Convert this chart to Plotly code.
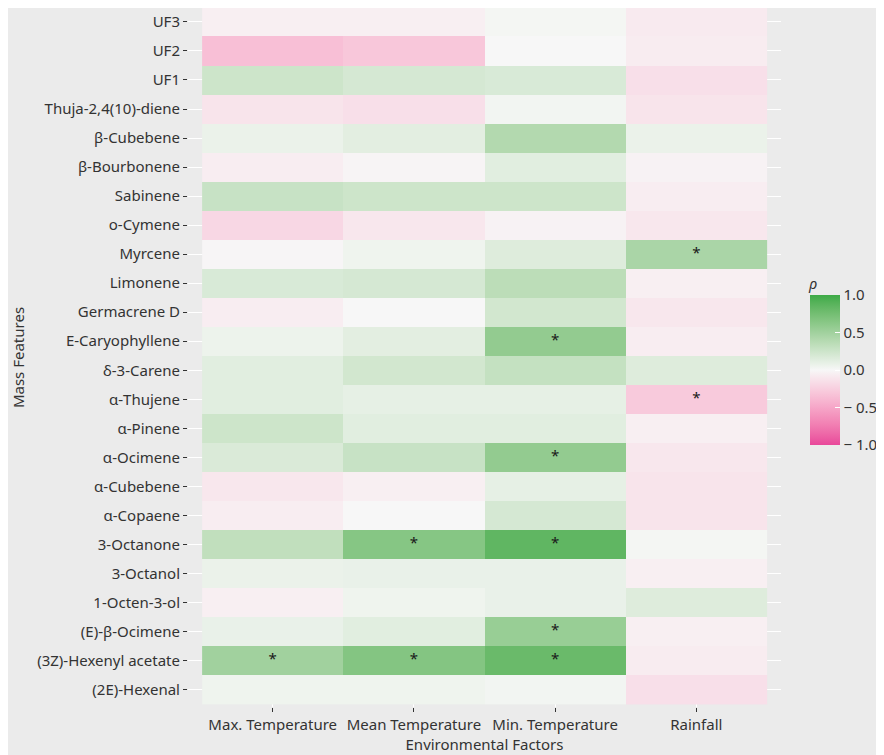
import plotly.graph_objects as go

features = ["UF3", "UF2", "UF1", "Thuja-2,4(10)-diene", "β-Cubebene", "β-Bourbonene",
            "Sabinene", "o-Cymene", "Myrcene", "Limonene", "Germacrene D", "E-Caryophyllene",
            "δ-3-Carene", "α-Thujene", "α-Pinene", "α-Ocimene", "α-Cubebene", "α-Copaene",
            "3-Octanone", "3-Octanol", "1-Octen-3-ol", "(E)-β-Ocimene", "(3Z)-Hexenyl acetate",
            "(2E)-Hexenal"]
factors = ["Max. Temperature", "Mean Temperature", "Min. Temperature", "Rainfall"]

max_temp = [-0.05, -0.35, 0.25, -0.12, 0.07, -0.06, 0.28, -0.20, -0.01, 0.18, -0.06, 0.06,
            0.13, 0.13, 0.25, 0.17, -0.10, -0.06, 0.32, 0.07, -0.05, 0.08, 0.50, 0.05]
mean_temp = [-0.05, -0.30, 0.20, -0.15, 0.12, -0.02, 0.25, -0.10, 0.05, 0.20, 0.00, 0.12,
             0.22, 0.10, 0.13, 0.28, -0.05, 0.00, 0.65, 0.08, 0.05, 0.13, 0.66, 0.05]
min_temp = [0.02, 0.00, 0.18, 0.03, 0.40, 0.13, 0.25, -0.03, 0.15, 0.35, 0.22, 0.58,
            0.30, 0.10, 0.13, 0.58, 0.10, 0.20, 0.85, 0.08, 0.08, 0.55, 0.80, 0.03]
rainfall = [-0.08, -0.07, -0.15, -0.12, 0.07, -0.03, -0.06, -0.10, 0.45, -0.05, -0.10, -0.06,
            0.15, -0.28, -0.05, -0.10, -0.12, -0.12, 0.02, -0.05, 0.15, -0.05, -0.07, -0.15]

sig_features = ["Myrcene", "E-Caryophyllene", "α-Thujene", "α-Ocimene", "3-Octanone",
                "3-Octanone", "(E)-β-Ocimene", "(3Z)-Hexenyl acetate", "(3Z)-Hexenyl acetate",
                "(3Z)-Hexenyl acetate"]
sig_factors = ["Rainfall", "Min. Temperature", "Rainfall", "Min. Temperature", "Mean Temperature",
               "Min. Temperature", "Min. Temperature", "Max. Temperature", "Mean Temperature",
               "Min. Temperature"]

cbar_vals = [1.0, 0.5, 0.0, -0.5, -1.0]
cbar_text = ["1.0", "0.5", "0.0", "− 0.5", "− 1.0"]

# ---- Lab-interpolated diverging colour scale (like ggplot's gradient2) ----
LOW, MID, HIGH = "#E8489A", "#F7F7F7", "#3DAA47"


def hex2rgb(h):
    h = h.lstrip("#")
    return [int(h[i:i + 2], 16) / 255 for i in (0, 2, 4)]


def srgb2lin(c):
    return c / 12.92 if c <= 0.04045 else ((c + 0.055) / 1.055) ** 2.4


def lin2srgb(c):
    c = max(0.0, min(1.0, c))
    return 12.92 * c if c <= 0.0031308 else 1.055 * c ** (1 / 2.4) - 0.055


def rgb2lab(rgb):
    r, g, b = [srgb2lin(c) for c in rgb]
    x = (0.4124 * r + 0.3576 * g + 0.1805 * b) / 0.95047
    y = (0.2126 * r + 0.7152 * g + 0.0722 * b)
    z = (0.0193 * r + 0.1192 * g + 0.9505 * b) / 1.08883
    f = lambda t: t ** (1 / 3) if t > 0.008856 else 7.787 * t + 16 / 116
    fx, fy, fz = f(x), f(y), f(z)
    return [116 * fy - 16, 500 * (fx - fy), 200 * (fy - fz)]


def lab2rgb(lab):
    L, a, b = lab
    fy = (L + 16) / 116
    fx = fy + a / 500
    fz = fy - b / 200
    finv = lambda t: t ** 3 if t ** 3 > 0.008856 else (t - 16 / 116) / 7.787
    x, y, z = finv(fx) * 0.95047, finv(fy), finv(fz) * 1.08883
    r = 3.2406 * x - 1.5372 * y - 0.4986 * z
    g = -0.9689 * x + 1.8758 * y + 0.0415 * z
    bb = 0.0557 * x - 0.2040 * y + 1.0570 * z
    return [round(lin2srgb(c) * 255) for c in (r, g, bb)]


def interp(c1, c2, t):
    l1, l2 = rgb2lab(hex2rgb(c1)), rgb2lab(hex2rgb(c2))
    return lab2rgb([l1[i] + (l2[i] - l1[i]) * t for i in range(3)])


colorscale = []
n = 20
for i in range(n + 1):
    s = i / n
    if s <= 0.5:
        rgb = interp(LOW, MID, s / 0.5)
    else:
        rgb = interp(MID, HIGH, (s - 0.5) / 0.5)
    colorscale.append([s, "rgb(%d,%d,%d)" % tuple(rgb)])

z = [[max_temp[i], mean_temp[i], min_temp[i], rainfall[i]] for i in range(len(features))]

FONT = "Noto Sans"
TXT = "#333333"
W, H = 876, 747  # page body has an 8px margin

fig = go.Figure()
fig.add_trace(go.Heatmap(
    z=z, x=factors, y=features, zmin=-1, zmax=1, colorscale=colorscale,
    colorbar=dict(
        tickvals=cbar_vals, ticktext=cbar_text,
        tickfont=dict(family=FONT, size=15, color=TXT),
        thickness=30, lenmode="pixels", len=150, ypad=0, xpad=0,
        xref="container", x=802 / W, xanchor="left",
        yref="container", y=1 - 387 / H, yanchor="middle",
        outlinewidth=0, ticks="inside", tickcolor="white", ticklen=5,
    ),
    hoverinfo="skip",
))
fig.add_trace(go.Scatter(
    x=sig_factors, y=sig_features, mode="text", text=["*"] * len(sig_factors),
    textfont=dict(family=FONT, size=15, color="#1a1a1a"), showlegend=False, hoverinfo="skip",
))

fig.add_annotation(text="<i>ρ</i>", xref="paper", yref="paper", showarrow=False,
                   x=(798 - 180) / (773 - 180), y=1 - 275 / 699.4,
                   xanchor="left", yanchor="middle",
                   font=dict(family=FONT, size=15, color=TXT))

fig.update_layout(
    width=W, height=H,
    margin=dict(l=180, r=103, t=0, b=48, pad=0),
    paper_bgcolor="#EBEBEB", plot_bgcolor="#EBEBEB",
    font=dict(family=FONT, size=15, color=TXT),
    showlegend=False,
)
fig.update_xaxes(
    type="category", range=[-0.6, 3.6], showgrid=True, gridcolor="white", gridwidth=1.2,
    zeroline=False, ticks="outside", ticklen=4, tickcolor="#333333",
    tickfont=dict(family=FONT, size=15, color=TXT),
    title=dict(text="Environmental Factors", font=dict(family=FONT, size=15, color=TXT), standoff=3),
    automargin=False,
)
fig.update_yaxes(
    type="category", range=[23.6, -0.48], showgrid=True, gridcolor="white", gridwidth=1.2,
    zeroline=False, ticks="outside", ticklen=4, tickcolor="#333333",
    tickfont=dict(family=FONT, size=15, color=TXT),
    title=dict(text="Mass Features", font=dict(family=FONT, size=15, color=TXT), standoff=12),
    automargin=False,
)

fig.write_html("out.html")
